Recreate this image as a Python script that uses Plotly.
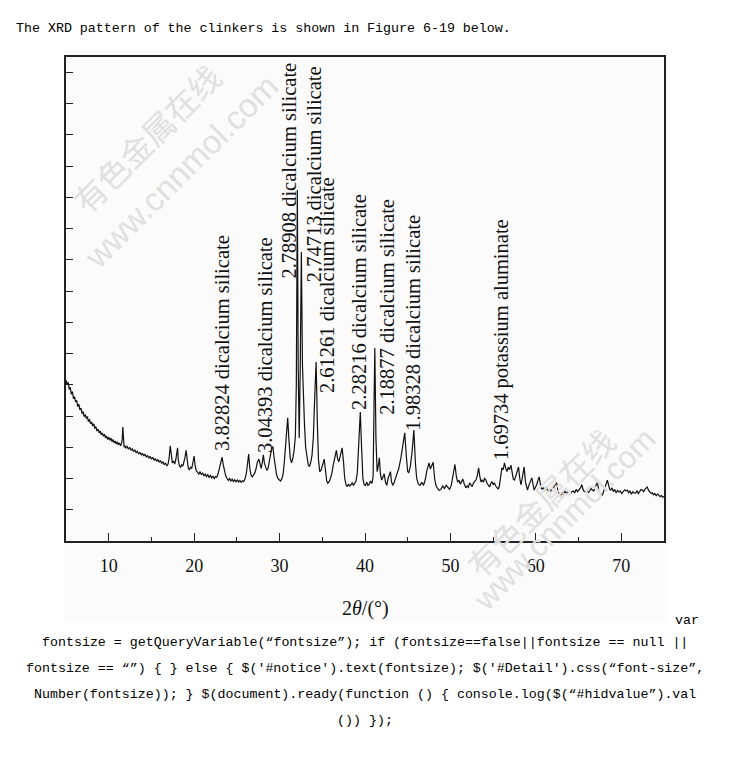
import plotly.graph_objects as go

# ---------------- data ----------------
two_theta = [
    5.00, 5.12, 5.25, 5.38, 5.50, 5.62, 5.75, 5.88, 6.00, 6.12,
    6.25, 6.38, 6.50, 6.62, 6.75, 6.88, 7.00, 7.12, 7.25, 7.38,
    7.50, 7.62, 7.75, 7.88, 8.00, 8.12, 8.25, 8.38, 8.50, 8.62,
    8.75, 8.88, 9.00, 9.12, 9.25, 9.38, 9.50, 9.62, 9.75, 9.88,
    10.00, 10.12, 10.25, 10.38, 10.50, 10.62, 10.75, 10.88, 11.00, 11.12,
    11.25, 11.38, 11.50, 11.58, 11.65, 11.72, 11.80, 11.90, 12.00, 12.15,
    12.30, 12.45, 12.60, 12.75, 12.90, 13.05, 13.20, 13.35, 13.50, 13.65,
    13.80, 13.95, 14.10, 14.25, 14.40, 14.55, 14.70, 14.85, 15.00, 15.15,
    15.30, 15.45, 15.60, 15.75, 15.90, 16.05, 16.20, 16.35, 16.50, 16.65,
    16.80, 16.95, 17.08, 17.20, 17.32, 17.45, 17.58, 17.72, 17.85, 17.98,
    18.06, 18.15, 18.28, 18.42, 18.55, 18.68, 18.80, 18.92, 19.06, 19.18,
    19.32, 19.45, 19.58, 19.72, 19.85, 20.00, 20.12, 20.25, 20.40, 20.55,
    20.70, 20.85, 21.00, 21.15, 21.30, 21.45, 21.60, 21.75, 21.90, 22.05,
    22.20, 22.35, 22.50, 22.65, 22.80, 22.95, 23.10, 23.27, 23.40, 23.55,
    23.70, 23.85, 24.00, 24.15, 24.30, 24.45, 24.60, 24.75, 24.90, 25.05,
    25.20, 25.35, 25.50, 25.65, 25.80, 25.95, 26.10, 26.25, 26.38, 26.52,
    26.65, 26.80, 26.95, 27.10, 27.25, 27.40, 27.58, 27.72, 27.85, 27.98,
    28.10, 28.22, 28.35, 28.50, 28.65, 28.80, 28.95, 29.10, 29.22, 29.35,
    29.50, 29.65, 29.80, 29.95, 30.10, 30.25, 30.40, 30.55, 30.75, 30.95,
    31.10, 31.25, 31.40, 31.55, 31.70, 31.85, 31.96, 32.08, 32.18, 32.30,
    32.42, 32.55, 32.68, 32.80, 32.92, 33.05, 33.20, 33.35, 33.50, 33.65,
    33.80, 33.95, 34.10, 34.28, 34.42, 34.55, 34.70, 34.85, 35.00, 35.22,
    35.38, 35.52, 35.65, 35.80, 35.95, 36.10, 36.30, 36.48, 36.65, 36.80,
    36.95, 37.10, 37.32, 37.48, 37.62, 37.78, 37.92, 38.05, 38.20, 38.35,
    38.50, 38.65, 38.80, 38.95, 39.10, 39.28, 39.45, 39.60, 39.75, 39.90,
    40.05, 40.20, 40.35, 40.50, 40.65, 40.80, 40.95, 41.05, 41.15, 41.28,
    41.42, 41.55, 41.68, 41.80, 41.95, 42.10, 42.25, 42.40, 42.55, 42.70,
    42.85, 42.98, 43.10, 43.25, 43.40, 43.55, 43.75, 43.95, 44.20, 44.42,
    44.65, 44.85, 45.00, 45.12, 45.30, 45.50, 45.72, 45.90, 46.05, 46.25,
    46.45, 46.65, 46.85, 47.05, 47.25, 47.50, 47.65, 47.80, 47.98, 48.15,
    48.30, 48.50, 48.70, 48.90, 49.10, 49.30, 49.50, 49.70, 49.90, 50.10,
    50.30, 50.53, 50.70, 50.85, 51.00, 51.15, 51.30, 51.45, 51.60, 51.80,
    51.95, 52.10, 52.25, 52.40, 52.55, 52.70, 52.85, 53.00, 53.15, 53.30,
    53.45, 53.58, 53.72, 53.85, 54.00, 54.16, 54.30, 54.45, 54.58, 54.72,
    54.88, 55.02, 55.15, 55.30, 55.45, 55.60, 55.72, 55.88, 56.03, 56.18,
    56.32, 56.48, 56.62, 56.76, 56.90, 57.08, 57.22, 57.36, 57.50, 57.64,
    57.80, 57.97, 58.12, 58.25, 58.40, 58.52, 58.63, 58.78, 58.90, 59.02,
    59.18, 59.35, 59.53, 59.68, 59.80, 59.95, 60.10, 60.25, 60.39, 60.55,
    60.70, 60.85, 61.00, 61.17, 61.32, 61.45, 61.60, 61.75, 61.90, 62.05,
    62.22, 62.41, 62.58, 62.75, 62.92, 63.08, 63.25, 63.40, 63.55, 63.72,
    63.89, 64.05, 64.20, 64.38, 64.55, 64.72, 64.88, 65.06, 65.22, 65.38,
    65.52, 65.68, 65.84, 66.00, 66.15, 66.30, 66.46, 66.62, 66.78, 66.92,
    67.05, 67.20, 67.35, 67.50, 67.65, 67.79, 67.95, 68.10, 68.25, 68.37,
    68.52, 68.65, 68.77, 68.92, 69.08, 69.22, 69.40, 69.58, 69.74, 69.90,
    70.05, 70.20, 70.38, 70.55, 70.70, 70.85, 71.00, 71.18, 71.35, 71.52,
    71.69, 71.85, 72.00, 72.15, 72.30, 72.46, 72.62, 72.78, 72.92, 73.04,
    73.20, 73.35, 73.50, 73.63, 73.78, 73.92, 74.08, 74.25, 74.41, 74.55,
    74.70, 74.85, 75.00,
]

intensity = [
    515, 500, 508, 485, 492, 470, 478, 455, 462, 445,
    450, 430, 438, 420, 425, 408, 414, 398, 405, 392,
    398, 382, 390, 375, 381, 368, 375, 360, 366, 352,
    358, 346, 352, 340, 346, 335, 342, 330, 336, 325,
    332, 322, 330, 318, 325, 314, 320, 310, 318, 308,
    314, 305, 312, 325, 365, 330, 300, 305, 298, 303,
    294, 300, 290, 296, 286, 292, 282, 288, 278, 284,
    275, 281, 272, 278, 268, 274, 265, 271, 262, 268,
    258, 264, 255, 261, 252, 258, 248, 254, 244, 250,
    240, 246, 268, 305, 268, 250, 256, 246, 260, 280,
    298, 258, 240, 236, 244, 240, 250, 266, 290, 252,
    232, 228, 236, 232, 250, 272, 240, 225, 220, 214,
    222, 212, 218, 208, 214, 206, 212, 204, 210, 202,
    207, 200, 206, 204, 215, 232, 252, 268, 245, 222,
    208, 200, 194, 200, 192, 198, 190, 196, 190, 195,
    189, 194, 188, 193, 190, 198, 215, 248, 278, 232,
    212, 205, 210, 218, 232, 252, 262, 240, 232, 252,
    276, 250, 236, 226, 232, 250, 278, 298, 302, 268,
    232, 212, 200, 196, 192, 198, 212, 250, 340, 394,
    322, 264, 250, 264, 290, 335, 500, 1123, 560, 330,
    560, 925, 560, 440, 370, 300, 262, 245, 238, 252,
    275, 330, 450, 573, 380, 262, 222, 226, 240, 262,
    225, 192, 185, 190, 200, 214, 245, 275, 290, 262,
    254, 272, 298, 255, 202, 180, 174, 182, 176, 180,
    186, 178, 184, 192, 218, 330, 413, 300, 202, 180,
    178, 188, 178, 182, 192, 184, 205, 420, 618, 330,
    222, 240, 266, 215, 195, 205, 215, 188, 178, 200,
    215, 222, 190, 178, 186, 198, 210, 232, 265, 305,
    346, 268, 222, 218, 238, 282, 355, 250, 200, 182,
    178, 188, 178, 196, 226, 250, 230, 240, 252, 200,
    178, 168, 162, 166, 176, 168, 178, 172, 165, 178,
    205, 245, 205, 188, 195, 182, 190, 198, 184, 170,
    176, 172, 186, 180, 174, 186, 192, 196, 210, 234,
    205, 189, 196, 188, 200, 195, 184, 178, 173, 184,
    190, 180, 186, 176, 170, 166, 175, 205, 234, 228,
    250, 232, 222, 236, 228, 243, 210, 198, 195, 210,
    222, 237, 200, 180, 200, 220, 237, 190, 172, 163,
    178, 190, 202, 180, 163, 172, 180, 195, 205, 178,
    165, 170, 160, 173, 162, 158, 165, 160, 168, 170,
    178, 189, 160, 150, 147, 156, 150, 160, 152, 158,
    157, 150, 158, 160, 155, 165, 158, 163, 170, 180,
    165, 158, 157, 162, 155, 160, 168, 163, 160, 170,
    180, 188, 165, 152, 150, 147, 160, 175, 185, 195,
    178, 165, 163, 170, 158, 165, 155, 162, 157, 160,
    152, 158, 164, 160, 163, 155, 160, 150, 158, 153,
    154, 160, 152, 158, 165, 163, 158, 166, 172, 173,
    162, 158, 152, 154, 148, 152, 145, 150, 147, 142,
    146, 140, 142,
]

peak_labels = [
    "3.82824 dicalcium silicate",
    "3.04393 dicalcium silicate",
    "2.78908 dicalcium silicate",
    "2.74713 dicalcium silicate",
    "2.61261 dicalcium silicate",
    "2.28216 dicalcium silicate",
    "2.18877 dicalcium silicate",
    "1.98328 dicalcium silicate",
    "1.69734 potassium aluminate",
]
label_two_theta = [23.27, 28.30, 31.16, 34.03, 35.55, 39.29, 42.56, 45.60, 56.00]
label_base_intensity = [282, 275, 835, 822, 467, 413, 397, 346, 253]

x_ticks = [10, 20, 30, 40, 50, 60, 70]

header_text = "The XRD pattern of the clinkers is shown in Figure 6-19 below."
code_lines = [
    "fontsize = getQueryVariable(“fontsize”); if (fontsize==false||fontsize == null ||",
    "fontsize == “”) { } else { $('#notice').text(fontsize); $('#Detail').css(“font-size”,",
    "Number(fontsize)); } $(document).ready(function () { console.log($(“#hidvalue”).val",
    "()) });",
]

# ---------------- layout helpers ----------------
W, H = 730, 770
L, R, T, B = 66, 664, 57, 541


def px_x(px):
    return (px - L) / (R - L)


def px_y(py):
    return (B - py) / (B - T)


serif = "Liberation Serif, Times New Roman, serif"
mono = "Liberation Mono, DejaVu Sans Mono, monospace"

fig = go.Figure()
fig.add_trace(go.Scatter(
    x=two_theta, y=intensity, mode="lines",
    line=dict(color="#111111", width=1.2),
    showlegend=False, hoverinfo="skip",
))

annotations = []
for txt, lx, ly in zip(peak_labels, label_two_theta, label_base_intensity):
    annotations.append(dict(
        x=lx, y=ly, xref="x", yref="y", text=txt, textangle=-90,
        showarrow=False, xanchor="center", yanchor="bottom",
        font=dict(family=serif, size=20.5, color="#111111"),
    ))

# axis title
annotations.append(dict(
    x=px_x(365), y=px_y(608), xref="paper", yref="paper",
    text="2<i>θ</i>/(°)", showarrow=False, xanchor="center", yanchor="middle",
    font=dict(family=serif, size=20, color="#111111"),
))

# header
annotations.append(dict(
    x=px_x(14), y=px_y(29), xref="paper", yref="paper", text=header_text,
    showarrow=False, xanchor="left", yanchor="middle",
    font=dict(family=mono, size=13.3, color="#000000"),
))

# code text below the figure
annotations.append(dict(
    x=px_x(673), y=px_y(620), xref="paper", yref="paper", text="var",
    showarrow=False, xanchor="left", yanchor="middle",
    font=dict(family=mono, size=13.3, color="#000000"),
))
for i, line in enumerate(code_lines):
    annotations.append(dict(
        x=px_x(365), y=px_y(642 + 26 * i), xref="paper", yref="paper", text=line,
        showarrow=False, xanchor="center", yanchor="middle",
        font=dict(family=mono, size=13.3, color="#000000"),
    ))

# watermarks
wm_color = "#e0e0e0"
for (cx, cy, txt, fam, sz) in [
    (146, 138, "有色金属在线", "Noto Sans CJK SC", 32),
    (181, 171, "www.cnnmol.com", "Liberation Sans, Arial, sans-serif", 33),
    (540, 502, "有色金属在线", "Noto Sans CJK SC", 32),
    (564, 519, "www.cnnmol.com", "Liberation Sans, Arial, sans-serif", 31),
]:
    annotations.append(dict(
        x=px_x(cx), y=px_y(cy), xref="paper", yref="paper", text=txt,
        textangle=-45, showarrow=False, xanchor="center", yanchor="middle",
        font=dict(family=fam, size=sz, color=wm_color),
    ))

fig.update_layout(
    width=W, height=H,
    margin=dict(l=L, r=W - R, t=T, b=H - B, pad=0),
    paper_bgcolor="#ffffff",
    plot_bgcolor="rgba(0,0,0,0)",
    annotations=annotations,
    shapes=[dict(
        type="rect", xref="paper", yref="paper", layer="below",
        x0=px_x(64), x1=px_x(668), y0=px_y(622), y1=px_y(50),
        fillcolor="#fbfbfb", line=dict(width=0),
    )],
    xaxis=dict(
        range=[5, 75], tickmode="array", tickvals=x_ticks,
        ticktext=[str(t) for t in x_ticks],
        ticks="inside", ticklen=8, tickwidth=1.3, tickcolor="#222222",
        minor=dict(tickvals=[15, 25, 35, 45, 55, 65], ticks="inside",
                   ticklen=4, tickwidth=1.3, tickcolor="#222222"),
        showline=True, linecolor="#222222", linewidth=1.6, mirror=True,
        showgrid=False, zeroline=False,
        tickfont=dict(family=serif, size=18, color="#111111"),
        ticklabelstandoff=8,
    ),
    yaxis=dict(
        range=[0, 1549], tick0=0, dtick=100,
        ticks="inside", ticklen=7, tickwidth=1.3, tickcolor="#222222",
        showticklabels=False,
        showline=True, linecolor="#222222", linewidth=1.6, mirror=True,
        showgrid=False, zeroline=False,
    ),
)

fig.write_html("out.html")
